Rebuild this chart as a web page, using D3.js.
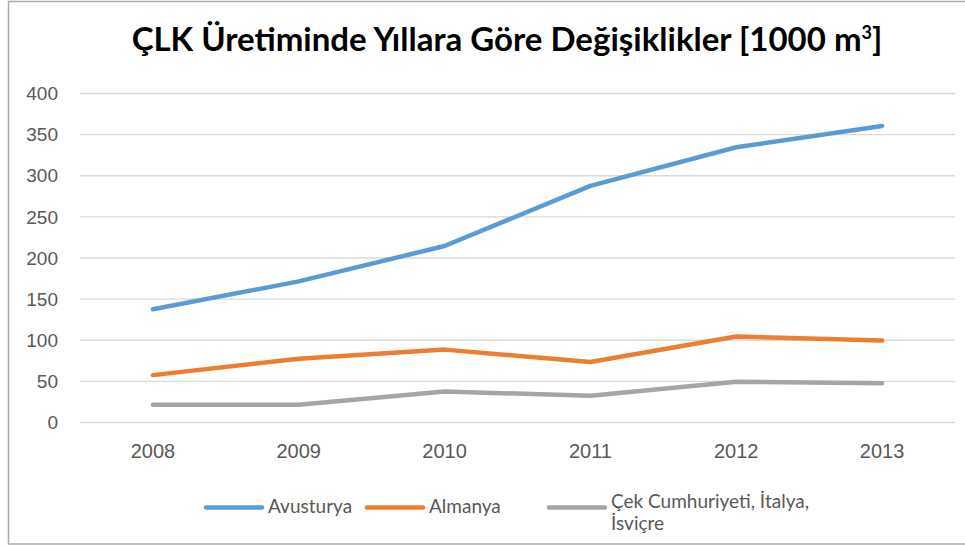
<!DOCTYPE html>
<html>
<head>
<meta charset="utf-8">
<script src="https://cdn.jsdelivr.net/npm/d3@7"></script>
<style>
  body { margin: 0; background: #fff; }
  svg { font-family: "Lato", "Open Sans", sans-serif; }
</style>
</head>
<body>
<svg id="chart" width="965" height="546"></svg>
<script>
let years = ["2008", "2009", "2010", "2011", "2012", "2013"]
let avusturya = [137, 171, 214, 287, 334, 360]
let almanya = [57, 77, 88, 73, 104, 99]
let digerleri = [21, 21, 37, 32, 49, 47]
let yTicks = [0, 50, 100, 150, 200, 250, 300, 350, 400]

let series = [
  { name: "Avusturya", values: avusturya, color: "#5b9bd5" },
  { name: "Almanya", values: almanya, color: "#ed7d31" },
  { name: "Çek Cumhuriyeti, İtalya, İsviçre", values: digerleri, color: "#a5a5a5" }
]

let width = 965
let height = 546
let margin = { top: 93, right: 10, bottom: 124, left: 80 }
let svg = d3.select("#chart")

// frame
svg.append("rect")
  .attr("x", 8.5)
  .attr("y", 1.5)
  .attr("width", 970)
  .attr("height", 542.5)
  .style("fill", "none")
  .style("stroke", "#ababab")
  .style("stroke-width", 1.5)

let x = d3.scaleBand()
  .domain(years)
  .range([margin.left, 955])

let y = d3.scaleLinear()
  .domain([0, 400])
  .range([height - margin.bottom, margin.top])

let yAxis = svg.append("g")
  .attr("class", "y axis")
  .attr("transform", `translate(${margin.left},0)`)
  .call(d3.axisLeft(y).tickValues(yTicks).tickSize(-(955 - margin.left)).tickPadding(22))

yAxis.select(".domain").remove()
yAxis.selectAll(".tick line").style("stroke", "#d9d9d9").style("stroke-width", 1.3)
yAxis.selectAll(".tick text")
  .style("fill", "#595959")
  .style("font-size", "19px")
  .attr("dy", "0.35em")

let xAxis = svg.append("g")
  .attr("class", "x axis")
  .attr("transform", `translate(0,${height - margin.bottom})`)
  .call(d3.axisBottom(x).tickSize(0).tickPadding(22))

xAxis.select(".domain").remove()
xAxis.selectAll(".tick text")
  .style("fill", "#595959")
  .style("font-size", "20px")

let line = d3.line()
  .x((d, i) => x(years[i]) + x.bandwidth() / 2)
  .y(d => y(d))

svg.append("g")
  .attr("id", "lines")
  .selectAll("path")
  .data(series)
  .join("path")
  .attr("d", d => line(d.values))
  .style("fill", "none")
  .style("stroke", d => d.color)
  .style("stroke-width", 4.5)
  .style("stroke-linecap", "round")
  .style("stroke-linejoin", "round")

// title
let title = svg.append("text")
  .attr("x", 507)
  .attr("y", 51)
  .attr("text-anchor", "middle")
  .style("fill", "#000")
  .style("font-size", "33px")
  .style("font-weight", "bold")
title.append("tspan").text("ÇLK Üretiminde Yıllara Göre Değişiklikler [1000 m")
title.append("tspan").attr("dy", -12).style("font-size", "18px").text("3")
title.append("tspan").attr("dy", 12).text("]")

// legend
let legend = [
  { x: 206, lines: ["Avusturya"] },
  { x: 367, lines: ["Almanya"] },
  { x: 549, lines: ["Çek Cumhuriyeti, İtalya,", "İsviçre"] }
]

legend.forEach((l, i) => {
  let g = svg.append("g")
  g.append("line")
    .attr("x1", l.x)
    .attr("x2", l.x + 56)
    .attr("y1", 507.5)
    .attr("y2", 507.5)
    .style("stroke", series[i].color)
    .style("stroke-width", 4.5)
    .style("stroke-linecap", "round")
  let t = g.append("text")
    .attr("y", l.lines.length > 1 ? 508 : 513)
    .style("fill", "#595959")
    .style("font-size", "19px")
  l.lines.forEach((s, j) => {
    t.append("tspan").attr("x", l.x + 62).attr("dy", j == 0 ? 0 : 22).text(s)
  })
})
</script>
</body>
</html>
